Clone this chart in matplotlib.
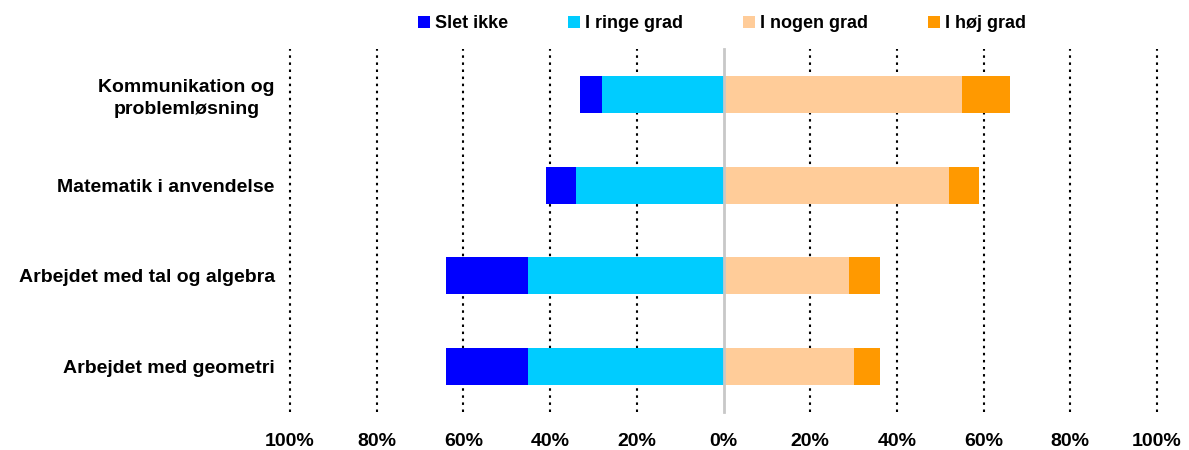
import matplotlib
matplotlib.use("Agg")
import matplotlib.pyplot as plt
from matplotlib.ticker import FixedLocator, FuncFormatter

plt.rcParams['font.family'] = ['Liberation Sans', 'DejaVu Sans']
plt.rcParams['font.weight'] = 'bold'

categories = [
    "Kommunikation og\nproblemløsning",
    "Matematik i anvendelse",
    "Arbejdet med tal og algebra",
    "Arbejdet med geometri",
]
series_names = ["Slet ikke", "I ringe grad", "I nogen grad", "I høj grad"]
slet_ikke = [5, 7, 19, 19]
ringe_grad = [28, 34, 45, 45]
nogen_grad = [55, 52, 29, 30]
hoej_grad = [11, 7, 7, 6]
tick_values = [-100, -80, -60, -40, -20, 0, 20, 40, 60, 80, 100]

colors = ["#0000FF", "#00CCFF", "#FFCC99", "#FF9900"]

fig = plt.figure(figsize=(11.89, 4.5), dpi=100)
ax = fig.add_axes([290 / 1189, 1 - 412 / 450, (1157 - 290) / 1189, (412 - 49) / 450])

y = list(range(len(categories)))
h = 0.41

# negative side: "I ringe grad" next to zero, "Slet ikke" outside it
ax.barh(y, [-v for v in ringe_grad], left=0, height=h, color=colors[1],
        label=series_names[1], zorder=3)
ax.barh(y, [-v for v in slet_ikke], left=[-r for r in ringe_grad], height=h,
        color=colors[0], label=series_names[0], zorder=3)
# positive side
ax.barh(y, nogen_grad, left=0, height=h, color=colors[2],
        label=series_names[2], zorder=3)
ax.barh(y, hoej_grad, left=nogen_grad, height=h, color=colors[3],
        label=series_names[3], zorder=3)

ax.set_xlim(-100, 100)
ax.set_ylim(len(categories) - 0.5, -0.5)

# vertical gridlines
for t in tick_values:
    if t == 0:
        ax.axvline(t, color="#c8c8c8", lw=2, zorder=4, clip_on=False)
    else:
        ax.axvline(t, color="black", lw=1.5, ls=(0, (1.2, 2.2)), zorder=1,
                   clip_on=False)

ax.xaxis.set_major_locator(FixedLocator(tick_values))
ax.xaxis.set_major_formatter(FuncFormatter(lambda v, p: f"{abs(int(round(v)))}%"))
ax.tick_params(axis="x", length=0, pad=15, labelsize=14)
ax.set_yticks(y)
ax.set_yticklabels(categories, fontsize=14, multialignment="center",
                   linespacing=1.35)
ax.tick_params(axis="y", length=0, pad=11)

for s in ax.spines.values():
    s.set_visible(False)

handles, labels = ax.get_legend_handles_labels()
order = [labels.index(n) for n in series_names]
fig.legend([handles[i] for i in order], [labels[i] for i in order],
           loc="center", bbox_to_anchor=(722 / 1189, 1 - 24 / 450), ncol=4,
           frameon=False, fontsize=13, handlelength=0.68, handleheight=0.68,
           handletextpad=0.28, columnspacing=3.3)

fig.savefig("out.png", dpi=100)
